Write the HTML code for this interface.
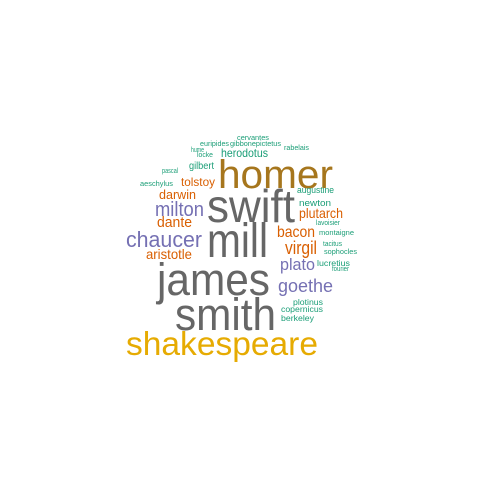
<!DOCTYPE html>
<html><head><meta charset="utf-8"><style>
html,body{margin:0;padding:0;background:#fff;}
svg text{font-family:"Liberation Sans",Arial,sans-serif;}
</style></head><body>
<svg id="cloud" width="480" height="480" viewBox="0 0 480 480"></svg>
<script>
const words=["shakespeare","smith","james","mill","swift","homer","chaucer","milton","aristotle","dante","darwin","tolstoy","gilbert","pascal","aeschylus","hume","locke","euripides","gibbonepictetus","cervantes","rabelais","herodotus","augustine","newton","plutarch","lavoisier","bacon","montaigne","virgil","tacitus","sophocles","plato","lucretius","fourier","goethe","plotinus","copernicus","berkeley"];
const sizes=[33,45,45,48,46,40,22,20,14,15,13,12,10,7,7,7,7,7,7,7,7,12,9,9,14,7,16,7,18,7,7,17,8,7,18,8,8,8];
const colors=["#E6AB02","#666666","#666666","#666666","#666666","#A6761D","#7570B3","#7570B3","#D95F02","#D95F02","#D95F02","#D95F02","#1B9E77","#1B9E77","#1B9E77","#1B9E77","#1B9E77","#1B9E77","#1B9E77","#1B9E77","#1B9E77","#1B9E77","#1B9E77","#1B9E77","#D95F02","#1B9E77","#D95F02","#1B9E77","#D95F02","#1B9E77","#1B9E77","#7570B3","#1B9E77","#1B9E77","#7570B3","#1B9E77","#1B9E77","#1B9E77"];
const lefts=[126,175,157,207,207,218,126,155,146,157,159,181,189,162,140,191,197,200,230,237,284,221,297,299,299,316,277,319,285,323,324,280,317,332,278,293,281,281];
const rights=[318,276,270,268,295,333,202,204,192,192,196,215,214,178,173,204,213,229,281,269,309,268,334,331,343,340,315,354,317,342,357,315,350,349,333,323,323,314];
const baselines=[355,330,295,257,222,188,247,216,259,227,199,186,169,173,186,152,157,146,146,140,150,157,193,206,218,225,237,235,254,246,254,270,266,271,292,305,312,321];
const svg=document.getElementById('cloud');
for(let i=0;i<words.length;i++){
  const t=document.createElementNS('http://www.w3.org/2000/svg','text');
  
  
  t.setAttribute('x',lefts[i]);
  t.setAttribute('y',baselines[i]);
  t.setAttribute('font-size',sizes[i]);
  t.setAttribute('fill',colors[i]);
  t.setAttribute('textLength',rights[i]-lefts[i]);
  t.setAttribute('lengthAdjust','spacingAndGlyphs');
  t.textContent=words[i];
  svg.appendChild(t);
}
</script>
</body></html>
